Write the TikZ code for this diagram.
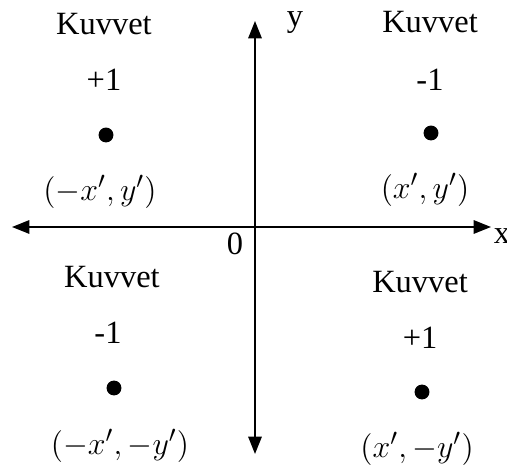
\documentclass[tikz,border=0pt]{standalone}
\usepackage{fontspec}
\setmainfont{Liberation Serif}
\usetikzlibrary{positioning,arrows.meta}

\begin{document}
\begin{tikzpicture}[
    x=0.376pt, y=-0.376pt,
    labelNode/.style={inner sep=0pt, font=\fontsize{12.2}{14}\selectfont},
    mathNode/.style={inner sep=0pt, font=\fontsize{13}{15}\selectfont},
    dotNode/.style={circle, fill=black, minimum size=5.6pt, inner sep=0pt},
    axisArrow/.style={-{Triangle[width=5pt,length=6.5pt]}, line width=0.75pt}
]
    \useasboundingbox (0,0) rectangle (507,466);

    % Eksenler
    \coordinate (o) at (255,227);
    \coordinate (xl) at (12,227);
    \coordinate (xr) at (491,227);
    \coordinate (yt) at (255,21);
    \coordinate (yb) at (255,454);
    \draw[axisArrow] (o) -- (xr);
    \draw[axisArrow] (o) -- (xl);
    \draw[axisArrow] (o) -- (yt);
    \draw[axisArrow] (o) -- (yb);
    \node[labelNode] (xLbl) at (502,236) {x};
    \node[labelNode] (yLbl) at (295,23) {y};
    \node[labelNode] (zero) at (235,244) {0};

    % Sol ust
    \node[labelNode] (k1) at (104,24) {Kuvvet};
    \node[labelNode] (s1) at (104,80) {+1};
    \node[dotNode] (d1) at (106,135) {};
    \node[mathNode] (p1) at (100,192) {$(-x',y')$};

    % Sag ust
    \node[labelNode] (k2) at (430,22) {Kuvvet};
    \node[labelNode] (s2) at (430,80) {-1};
    \node[dotNode] (d2) at (431,133) {};
    \node[mathNode] (p2) at (425,190) {$(x',y')$};

    % Sol alt
    \node[labelNode] (k3) at (112,277) {Kuvvet};
    \node[labelNode] (s3) at (108,333) {-1};
    \node[dotNode] (d3) at (114,388) {};
    \node[mathNode] (p3) at (120,446) {$(-x',-y')$};

    % Sag alt
    \node[labelNode] (k4) at (420,282) {Kuvvet};
    \node[labelNode] (s4) at (420,338) {+1};
    \node[dotNode] (d4) at (422,392) {};
    \node[mathNode] (p4) at (417,449) {$(x',-y')$};
\end{tikzpicture}
\end{document}
